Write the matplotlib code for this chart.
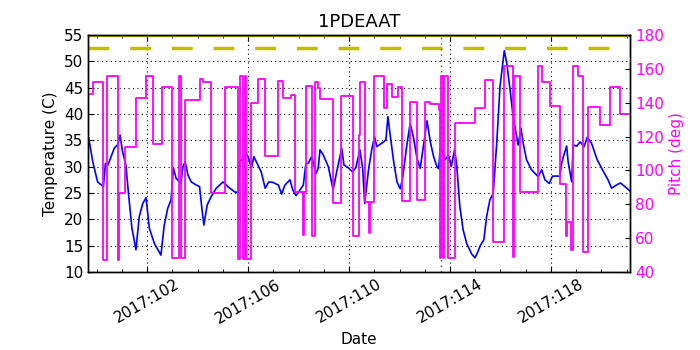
import matplotlib
matplotlib.use('Agg')
import matplotlib.pyplot as plt
from matplotlib.ticker import FuncFormatter, MultipleLocator
import numpy as np

# day of year 2017 (fractional)
temp_days = [99.69, 99.85, 100.04, 100.27, 100.35, 100.45, 100.70, 100.84, 100.93, 101.03,
             101.16, 101.27, 101.40, 101.56, 101.69, 101.83, 101.96, 102.09, 102.29, 102.55,
             102.68, 102.82, 102.95, 103.04, 103.15, 103.34, 103.42, 103.51, 103.62, 103.75,
             103.95, 104.08, 104.17, 104.25, 104.38, 104.54, 104.74, 105.01, 105.20, 105.47,
             105.60, 105.67, 105.80, 105.93, 106.02, 106.13, 106.23, 106.39, 106.52, 106.68,
             106.82, 106.99, 107.20, 107.33, 107.46, 107.66, 107.77, 107.90, 108.06, 108.19,
             108.29, 108.38, 108.52, 108.69, 108.78, 108.85, 108.98, 109.18, 109.37, 109.51,
             109.71, 109.80, 109.97, 110.14, 110.27, 110.43, 110.54, 110.62, 110.78, 110.91,
             111.01, 111.10, 111.37, 111.46, 111.54, 111.63, 111.77, 111.90, 112.03, 112.12,
             112.29, 112.42, 112.56, 112.69, 112.82, 112.95, 113.09, 113.22, 113.35, 113.48,
             113.55, 113.61, 113.71, 113.81, 113.94, 114.05, 114.18, 114.26, 114.39, 114.52,
             114.66, 114.86, 114.99, 115.08, 115.21, 115.34, 115.45, 115.58, 115.71, 115.85,
             115.98, 116.15, 116.25, 116.38, 116.50, 116.64, 116.70, 116.81, 116.90, 117.03,
             117.23, 117.49, 117.63, 117.76, 117.93, 118.06, 118.35, 118.42, 118.51, 118.62,
             118.68, 118.82, 118.88, 119.02, 119.15, 119.31, 119.44, 119.61, 119.83, 120.04,
             120.26, 120.40, 120.59, 120.75, 120.93, 121.12]
temp_vals = [35.4, 30.9, 27.1, 26.2, 30.6, 30.3, 33.5, 34.2, 36.0, 32.8,
             30.3, 24.6, 18.3, 14.2, 20.5, 23.0, 24.1, 18.3, 15.4, 13.2,
             18.9, 22.1, 23.7, 29.8, 27.8, 26.8, 30.0, 30.9, 28.4, 27.1,
             26.5, 26.2, 22.1, 18.9, 22.7, 24.3, 25.9, 27.1, 26.2, 25.2,
             25.1, 30.9, 31.6, 32.5, 31.6, 29.7, 31.9, 30.3, 29.0, 25.9,
             27.1, 27.0, 26.5, 24.8, 26.5, 27.5, 25.6, 24.5, 25.6, 26.5,
             30.6, 30.6, 31.9, 28.7, 29.7, 33.2, 32.2, 30.0, 25.6, 29.0,
             33.5, 30.3, 29.8, 29.0, 29.8, 33.2, 29.7, 23.0, 29.7, 33.5,
             35.7, 33.8, 34.7, 35.1, 39.5, 36.0, 30.9, 27.1, 25.8, 27.8,
             34.1, 38.2, 35.4, 31.6, 29.7, 34.1, 38.7, 34.7, 31.9, 30.0,
             29.6, 33.5, 32.8, 31.3, 32.2, 30.0, 33.2, 30.6, 22.4, 18.0,
             15.4, 13.4, 12.7, 13.6, 15.1, 16.1, 20.5, 23.7, 24.9, 34.4,
             45.2, 52.0, 49.6, 44.6, 39.5, 35.7, 34.1, 37.3, 34.4, 31.3,
             29.4, 28.1, 29.4, 27.5, 26.8, 28.2, 28.2, 30.6, 32.2, 33.9,
             30.9, 27.1, 34.1, 33.9, 34.7, 33.8, 35.6, 34.4, 31.3, 29.4,
             27.5, 25.9, 26.5, 26.9, 26.2, 25.4]

pitch_days = [99.66, 99.85, 100.27, 100.40, 100.84, 100.90, 101.14, 101.56, 101.96, 102.22,
              102.59, 102.99, 103.28, 103.36, 103.51, 104.08, 104.20, 104.54, 105.07, 105.60,
              105.67, 105.80, 105.86, 105.93, 106.13, 106.39, 106.68, 107.20, 107.37, 107.69,
              107.86, 108.18, 108.22, 108.29, 108.52, 108.65, 108.78, 108.85, 109.37, 109.68,
              110.14, 110.40, 110.45, 110.62, 110.81, 110.85, 110.97, 111.37, 111.49, 111.72,
              111.93, 112.09, 112.42, 112.69, 113.02, 113.22, 113.55, 113.62, 113.66, 113.72,
              113.76, 113.91, 114.20, 114.99, 115.38, 115.71, 116.15, 116.49, 116.53, 116.77,
              117.49, 117.63, 117.98, 118.35, 118.59, 118.63, 118.81, 118.88, 119.07, 119.27,
              119.47, 119.96, 120.33, 120.75, 121.13]
pitch_vals = [145, 152, 47, 156, 47, 86.5, 114, 143, 155.5, 115.5,
              149.5, 48.5, 155.5, 48, 141.5, 154, 152, 86.5, 149.5, 47.5,
              156, 47.5, 156, 47.5, 140, 154, 108.5, 153, 143, 144.5,
              87, 62, 87, 150, 61, 152.5, 148.5, 142, 80.5, 144,
              61.5, 121, 152.5, 81.5, 63, 81.5, 156, 137, 151, 143.5,
              149, 82, 140.5, 82.5, 140.5, 139.5, 135.5, 48.5, 156, 48.5,
              156, 48, 128, 137, 153.5, 57.5, 161.5, 49, 156, 87.5,
              161.5, 152, 138, 92, 61.5, 69.5, 53, 161.5, 156, 51.5,
              137.5, 127, 149, 133.5, 133.5]

date_ticks = [102, 106, 110, 114, 118]
planning_limit = 52.5
caution_limit = 55.0
event_day = 113.64

fig = plt.figure(figsize=(7, 3.5), dpi=100)
fig.patch.set_facecolor('white')
ax = fig.add_subplot(111)
fig.subplots_adjust(left=0.1257, right=0.9, bottom=0.223, top=0.9)

ax.plot(temp_days, temp_vals, color='b', lw=1.2)
ax.axhline(planning_limit, color='y', ls='--', lw=2.5, dashes=(6, 6))
ax.axhline(caution_limit, color='y', ls='-', lw=2.5)
ax.axvline(event_day, color='g', ls=':', lw=1.0, dashes=(1, 3))
ax.set_xlim(99.66, 121.13)
ax.set_ylim(10, 55)
ax.set_yticks(np.arange(10, 56, 5))
ax.set_xticks(date_ticks)
ax.xaxis.set_minor_locator(MultipleLocator(1))
ax.xaxis.set_major_formatter(FuncFormatter(lambda d, pos: '2017:%03d' % int(round(d))))
ax.grid(True, color='k', ls=':', lw=0.8, dashes=(1, 3))
ax.tick_params(which='both', direction='in', top=True, labelsize=11)
ax.tick_params(which='major', length=4)
ax.tick_params(which='minor', length=2)
ax.set_xlabel('Date', fontsize=11)
ax.set_ylabel('Temperature (C)', fontsize=11)
ax.set_title('1PDEAAT', fontsize=13)
plt.setp(ax.get_xticklabels(), rotation=30, ha='center')

ax2 = ax.twinx()
ax2.step(pitch_days, pitch_vals, where='post', color='magenta', lw=1.3)
ax2.set_ylim(40, 180)
ax2.set_yticks(np.arange(40, 181, 20))
ax2.set_xlim(99.66, 121.13)
ax2.tick_params(direction='in', labelsize=11, labelcolor='magenta')
ax2.set_ylabel('Pitch (deg)', color='magenta', fontsize=11)

for a in (ax, ax2):
    for s in a.spines.values():
        s.set_linewidth(1.0)

fig.savefig('out.png', dpi=100, facecolor='white')
